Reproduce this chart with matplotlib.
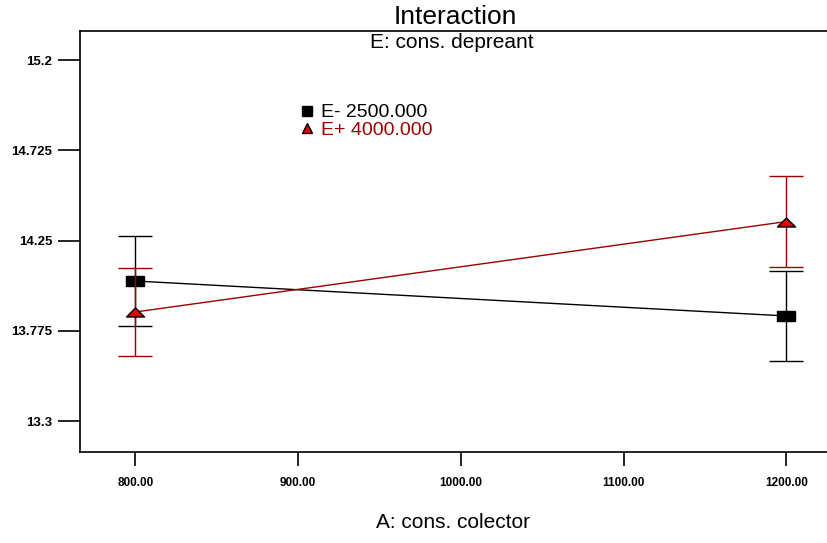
import matplotlib
matplotlib.use("Agg")
import matplotlib.pyplot as plt
from matplotlib.lines import Line2D

plt.rcParams['font.family'] = ['Liberation Sans', 'DejaVu Sans']

# data
x_levels = [800, 1200]
e_minus = [14.037, 13.853]
e_minus_err = [0.237, 0.237]
e_plus = [13.874, 14.350]
e_plus_err = [0.232, 0.240]
x_ticks = [800, 900, 1000, 1100, 1200]
y_ticks = [13.3, 13.775, 14.25, 14.725, 15.2]
labels = ['E- 2500.000', 'E+ 4000.000']

# flat square / triangle markers like the original
rect = [(-1, -0.5), (1, -0.5), (1, 0.5), (-1, 0.5), (-1, -0.5)]
tri = [(-1, -0.5), (1, -0.5), (0, 0.5), (-1, -0.5)]

fig = plt.figure(figsize=(8.27, 5.43), dpi=100)
ax = fig.add_axes([80 / 827, 1 - 452 / 543, 752 / 827, (452 - 31) / 543])

dark_red = '#9b0000'

ax.errorbar(x_levels, e_minus, yerr=e_minus_err, color='black', lw=1.0,
            capsize=12, capthick=1.0, marker=rect, ms=13, mfc='black', mec='black',
            zorder=3)
ax.errorbar(x_levels, e_plus, yerr=e_plus_err, color=dark_red, lw=1.0,
            ecolor=dark_red, capsize=12, capthick=1.0, marker=tri, ms=13,
            mfc='#e00000', mec='black', mew=1.0, zorder=4)

ax.set_xlim(766, 1228)
ax.set_ylim(13.137, 15.353)
ax.set_xticks(x_ticks)
ax.set_xticklabels(['%.2f' % v for v in x_ticks], fontsize=8.5, fontweight='bold')
ax.set_yticks(y_ticks)
ax.set_yticklabels([('%g' % v) for v in y_ticks], fontsize=9.5, fontweight='bold')
ax.tick_params(axis='y', length=16, width=1.2, pad=4)
ax.tick_params(axis='x', length=10, width=1.2, pad=8)
ax.spines['right'].set_visible(False)
for s in ['left', 'bottom', 'top']:
    ax.spines[s].set_linewidth(1.2)

fig.text(455 / 827, 1 - 17 / 543, 'Interaction', ha='center', va='center', fontsize=19)
fig.text(452 / 827, 1 - 43 / 543, 'E: cons. depreant', ha='center', va='center', fontsize=15)
fig.text(453 / 827, 1 - 523 / 543, 'A: cons. colector', ha='center', va='center', fontsize=15)

handles = [Line2D([], [], ls='none', marker='s', ms=7, mfc='black', mec='black'),
           Line2D([], [], ls='none', marker='^', ms=7, mfc='#e00000', mec='black')]
leg = ax.legend(handles, labels, loc='upper left',
                bbox_to_anchor=((294 - 80) / 752, 1 - (96 - 31) / 421),
                frameon=False, fontsize=14, handlelength=0.5, handletextpad=0.5,
                labelspacing=0.0, borderaxespad=0)
leg.get_texts()[1].set_color(dark_red)

fig.savefig('out.png', dpi=100)
